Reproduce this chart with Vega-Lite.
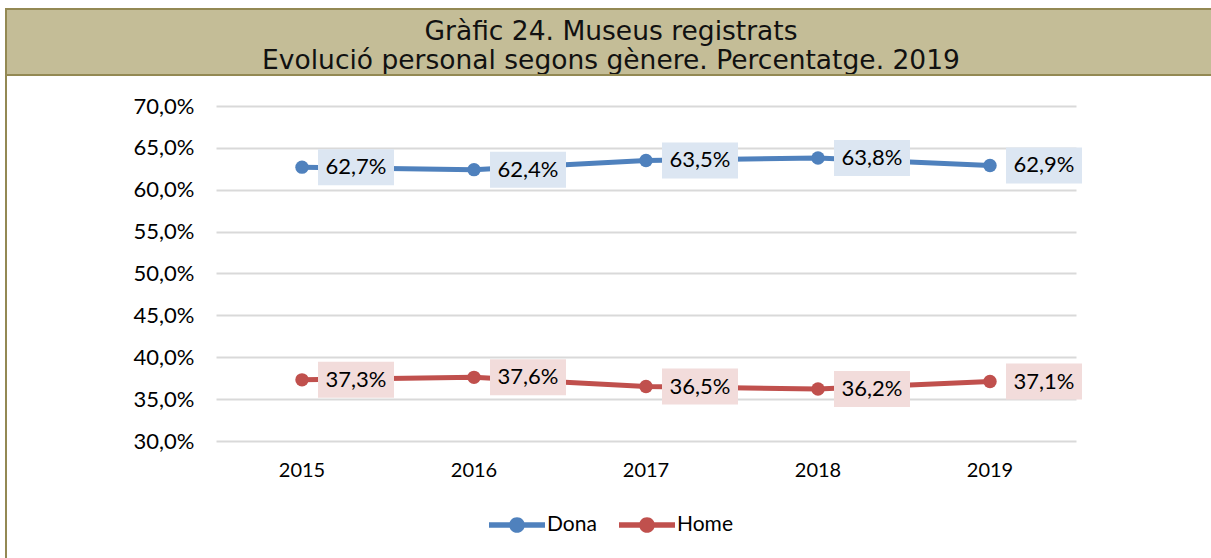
{
  "$schema": "https://vega.github.io/schema/vega-lite/v6.json",
  "padding": {"left": 5, "top": 8, "right": 0, "bottom": 0},
  "background": "white",
  "spacing": 0,
  "bounds": "flush",
  "config": {
    "font": "Lato",
    "locale": {"number": {"decimal": ",", "thousands": ".", "grouping": [3], "currency": ["", " €"]}},
    "concat": {"spacing": 0}
  },
  "vconcat": [
    {
      "width": 1210,
      "height": 66,
      "view": {"fill": "#C4BD97", "stroke": "#938953", "strokeWidth": 2},
      "data": {"values": [{"t": "Gràfic 24. Museus registrats\nEvolució personal segons gènere. Percentatge. 2019"}]},
      "mark": {"type": "text", "lineBreak": "\n", "font": "DejaVu Sans", "fontSize": 26.5, "lineHeight": 29, "color": "#111111", "dy": -10},
      "encoding": {"text": {"field": "t", "type": "nominal"}}
    },
    {
      "width": 1210,
      "height": 500,
      "view": {"fill": "white", "stroke": "#938953", "strokeWidth": 2},
      "data": {"values": [
        {"year": "2015", "sexe": "Dona", "value": 0.627},
        {"year": "2016", "sexe": "Dona", "value": 0.624},
        {"year": "2017", "sexe": "Dona", "value": 0.635},
        {"year": "2018", "sexe": "Dona", "value": 0.638},
        {"year": "2019", "sexe": "Dona", "value": 0.629},
        {"year": "2015", "sexe": "Home", "value": 0.373},
        {"year": "2016", "sexe": "Home", "value": 0.376},
        {"year": "2017", "sexe": "Home", "value": 0.365},
        {"year": "2018", "sexe": "Home", "value": 0.362},
        {"year": "2019", "sexe": "Home", "value": 0.371}
      ]},
      "encoding": {
        "x": {
          "field": "year", "type": "ordinal",
          "scale": {"type": "band", "range": [210, 1070], "paddingInner": 0, "paddingOuter": 0},
          "axis": {"orient": "bottom", "offset": -134, "title": null, "domain": false, "ticks": false, "tickSize": 0, "grid": false, "labelAngle": 0, "labelFontSize": 20, "labelColor": "#000000", "labelPadding": 19, "labelFont": "Lato"}
        },
        "y": {
          "field": "value", "type": "quantitative",
          "scale": {"domain": [0.3, 0.7], "range": [366, 31], "nice": false, "zero": false},
          "axis": {"orient": "left", "offset": -188, "title": null, "domain": false, "ticks": false, "tickSize": 0, "labelPadding": 0, "values": [0.3, 0.35, 0.4, 0.45, 0.5, 0.55, 0.6, 0.65, 0.7], "format": ".1%", "labelFontSize": 22, "labelColor": "#000000", "labelFont": "Lato", "grid": true, "gridColor": "#D9D9D9", "gridWidth": 2}
        }
      },
      "layer": [
        {
          "mark": {"type": "circle", "size": 180, "opacity": 1},
          "encoding": {
            "color": {"field": "sexe", "type": "nominal", "scale": {"domain": ["Dona", "Home"], "range": ["#4F81BD", "#C0504D"]},
              "legend": {"orient": "none", "legendX": 483, "legendY": 488, "direction": "horizontal", "title": null,
                "symbolType": "M-1,-0.1H1V0.1H-1Z M0.28,0A0.28,0.28 0 1,1 -0.28,0A0.28,0.28 0 1,1 0.28,0Z",
                "symbolSize": 3136, "symbolStrokeWidth": 0, "symbolOpacity": 1, "labelFontSize": 21, "labelFont": "Lato", "labelColor": "#000000", "labelOffset": 2, "columnPadding": 22,
                "encode": {"symbols": {"update": {"fill": {"signal": "datum.value === 'Dona' ? '#4F81BD' : '#C0504D'"}, "strokeWidth": {"value": 0}, "opacity": {"value": 1}}}}}}
          }
        },
        {
          "mark": {"type": "line", "strokeWidth": 5},
          "encoding": {
            "color": {"field": "sexe", "type": "nominal", "scale": {"domain": ["Dona", "Home"], "range": ["#4F81BD", "#C0504D"]},
              "legend": {"orient": "none", "legendX": 483, "legendY": 488, "direction": "horizontal", "title": null,
                "symbolType": "M-1,-0.1H1V0.1H-1Z M0.28,0A0.28,0.28 0 1,1 -0.28,0A0.28,0.28 0 1,1 0.28,0Z",
                "symbolSize": 3136, "symbolStrokeWidth": 0, "symbolOpacity": 1, "labelFontSize": 21, "labelFont": "Lato", "labelColor": "#000000", "labelOffset": 2, "columnPadding": 22,
                "encode": {"symbols": {"update": {"fill": {"signal": "datum.value === 'Dona' ? '#4F81BD' : '#C0504D'"}, "strokeWidth": {"value": 0}, "opacity": {"value": 1}}}}}}
          }
        },
        {
          "mark": {"type": "point", "shape": "M-1,-0.474H1V0.474H-1Z", "size": 5776, "filled": true, "opacity": 1, "strokeWidth": 0, "xOffset": 54},
          "encoding": {
            "fill": {"field": "sexe", "type": "nominal", "scale": {"domain": ["Dona", "Home"], "range": ["#DCE6F2", "#F2DCDB"]}, "legend": null}
          }
        },
        {
          "mark": {"type": "text", "xOffset": 54, "fontSize": 22, "font": "Lato", "color": "#000000", "align": "center", "baseline": "middle"},
          "encoding": {
            "text": {"field": "value", "type": "quantitative", "format": ".1%"}
          }
        }
      ]
    }
  ]
}
